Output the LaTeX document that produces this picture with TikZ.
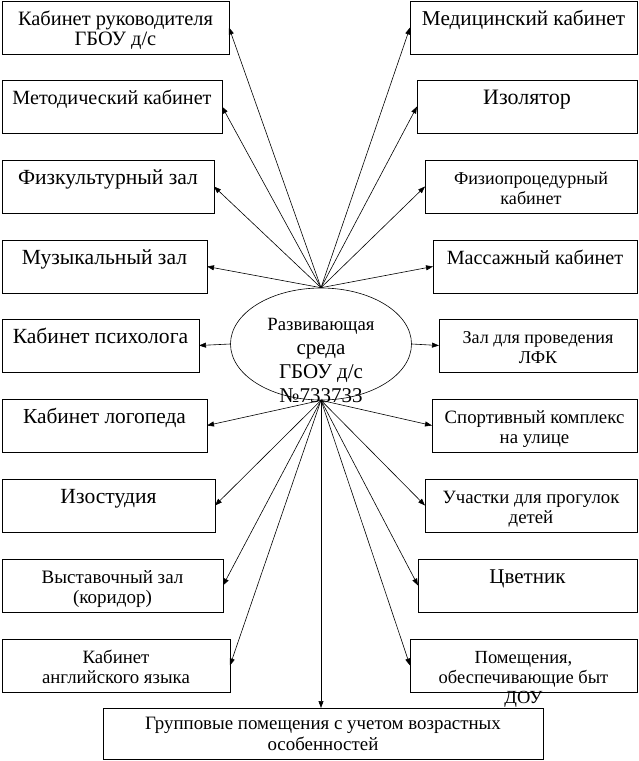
\documentclass[tikz,border=0pt]{standalone}
\usepackage{fontspec}
\setmainfont{Liberation Serif}
\usetikzlibrary{shapes.geometric,arrows.meta}

\begin{document}
\begin{tikzpicture}[x=1pt,y=-1pt,>={Stealth[length=7pt,width=5pt,inset=0pt]},
  box/.style={draw,line width=0.8pt,inner sep=0pt,outer sep=0pt},
  link/.style={->,line width=0.6pt}]
  \useasboundingbox (0,0) rectangle (638,761);

  % Левая колонка
  \foreach \nm/\xb/\ya/\fs/\txt in {
    l1/229/1/20.4/{Кабинет руководителя\\ГБОУ д/с},
    l2/222/80/20.2/{Методический кабинет},
    l3/214/160/21.6/{Физкультурный зал},
    l4/207/240/21.6/{Музыкальный зал},
    l5/199/319/21.6/{Кабинет психолога},
    l6/207/399/21.4/{Кабинет логопеда},
    l7/215/479/21.6/{Изостудия},
    l8/223/559/19/{Выставочный зал\\(коридор)},
    l9/230/639/18.8/{Кабинет\\английского языка}} {
    \node[box,anchor=north west] (\nm) at (2,\ya)
      {\parbox[c][53pt][t]{\dimexpr\xb pt-2pt\relax}{\centering
       \fontsize{\fs}{20}\selectfont\rule{0pt}{24pt}\txt}};
  }

  % Правая колонка
  \foreach \nm/\xa/\ya/\fs/\txt in {
    r1/410/1/21.2/{Медицинский кабинет},
    r2/417/80/22/{Изолятор},
    r3/425/160/18.1/{Физиопроцедурный\\кабинет},
    r4/433/240/20.2/{Массажный кабинет},
    r5/439/319/18.1/{Зал для проведения\\ЛФК},
    r6/432/399/18.8/{Спортивный комплекс\\на улице},
    r7/425/479/18.8/{Участки для прогулок\\детей},
    r8/418/559/21/{Цветник},
    r9/410/639/18.5/{Помещения,\\обеспечивающие быт\\ДОУ}} {
    \node[box,anchor=north east] (\nm) at (637,\ya)
      {\parbox[c][53pt][t]{\dimexpr637pt-\xa pt\relax}{\centering
       \fontsize{\fs}{20}\selectfont\rule{0pt}{24pt}\txt}};
  }

  % Групповые
  \node[box,anchor=north west] (grp) at (103,708)
    {\parbox[c][51pt][t]{440pt}{\centering
     \fontsize{18.9}{21}\selectfont\rule{0pt}{21pt}Групповые помещения с учетом возрастных\\особенностей}};

  % Центр
  \node[draw,ellipse,line width=0.6pt,minimum width=181pt,minimum height=112pt,inner sep=0pt] (ell) at (321,344) {};

  % Стрелки
  \foreach \nm in {l1,l2,l3,l4}
    \draw[link] (ell.north) -- (\nm.east);
  \foreach \nm in {r1,r2,r3,r4}
    \draw[link] (ell.north) -- (\nm.west);
  \draw[link] (ell.west) -- (l5.east);
  \draw[link] (ell.east) -- (r5.west);
  \foreach \nm in {l6,l7,l8,l9}
    \draw[link] (ell.south) -- (\nm.east);
  \foreach \nm in {r6,r7,r8,r9}
    \draw[link] (ell.south) -- (\nm.west);
  \draw[link] (ell.south) -- (ell.south |- grp.north);

  \node[inner sep=0pt,anchor=north] (etxt) at (321,312)
    {\parbox[t]{170pt}{\centering\fontsize{18.7}{24}\selectfont\rule{0pt}{18pt}Развивающая\\
     \fontsize{21}{24}\selectfont среда\\ГБОУ д/с\\№733733}};
\end{tikzpicture}
\end{document}
